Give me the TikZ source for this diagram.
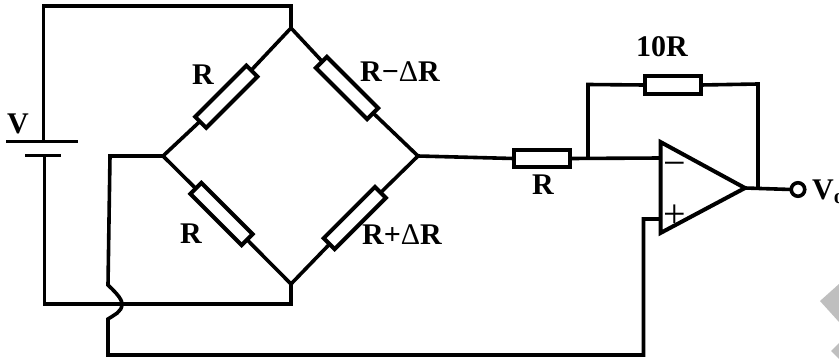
\documentclass[tikz,border=0pt]{standalone}
\usepackage{fontspec}
\setmainfont{Liberation Serif}
\begin{document}
\begin{tikzpicture}[x=1pt,y=-1pt,
  wire/.style={line width=3.6pt,line join=miter,line cap=butt},
  resbox/.style={draw,line width=4pt,rectangle,inner sep=0pt,minimum width=56pt,minimum height=17.5pt,outer sep=0pt,fill=white},
  diagres/.style={draw,line width=4pt,rectangle,inner sep=0pt,minimum width=72.5pt,minimum height=15.5pt,outer sep=0pt,fill=white},
  lbl/.style={font=\fontsize{30}{30}\selectfont\bfseries,inner sep=0pt,text=black},
  sign/.style={font=\fontsize{40}{40}\selectfont,inner sep=0pt},
  wm/.style={fill=black!25,draw=none}]
\clip (0,0) rectangle (839,359);
\fill[white] (0,0) rectangle (839,359);
% watermark fragments
\fill[wm] (839,284) -- (820,301) -- (839,322) -- cycle;
\fill[wm] (839,343) -- (831,351) -- (839,359) -- cycle;
% key points
\coordinate (T) at (291,28);
\coordinate (L) at (163,156);
\coordinate (B) at (291,284);
\coordinate (Rt) at (418,156);
\coordinate (topL) at (43.5,6);
\coordinate (topR) at (291,6);
\coordinate (botL) at (44.5,304);
\coordinate (botR) at (291,304);
\coordinate (batA) at (43.5,141);
\coordinate (batB) at (44.5,155);
\coordinate (pl1) at (6,141.5);
\coordinate (pr1) at (78,141.5);
\coordinate (pl2) at (25,155.5);
\coordinate (pr2) at (61,155.5);
\coordinate (j1) at (588,158);
\coordinate (fbL) at (588,84.5);
\coordinate (fbR) at (758,84);
\coordinate (ampA) at (660.5,142);
\coordinate (ampB) at (660.5,233);
\coordinate (ampC) at (745,188);
\coordinate (ampM) at (660.5,158);
\coordinate (ampP) at (660.5,219);
\coordinate (fbO) at (758,188);
\coordinate (pA) at (643.5,219);
\coordinate (pB) at (643.5,355);
\coordinate (cA) at (108,355);
\coordinate (cB) at (108,319);
\coordinate (cC) at (108,285);
\coordinate (cD) at (110,156);
% resistors
\node[diagres,rotate=45] (r1) at (226.3,96.7) {};
\node[diagres,rotate=-45] (r2) at (221.5,214) {};
\node[diagres,rotate=-45] (r3) at (347,88) {};
\node[diagres,rotate=45] (r4) at (354.8,218) {};
\node[resbox] (r5) at (541.7,158.5) {};
\node[resbox] (r6) at (672.7,85) {};
\node[circle,draw,line width=3.6pt,minimum size=13.5pt,inner sep=0pt,outer sep=0pt] (out) at (798,189.5) {};
% connectors
\draw[wire] (batA) -- (topL) -- (topR) -- (T);
\draw[wire] (batB) -- (botL) -- (botR) -- (B);
\draw[wire] (pl1) -- (pr1);
\draw[wire] (pl2) -- (pr2);
\draw[wire] (T) -- (r1);
\draw[wire] (r1) -- (L);
\draw[wire] (L) -- (r2);
\draw[wire] (r2) -- (B);
\draw[wire] (T) -- (r3);
\draw[wire] (r3) -- (Rt);
\draw[wire] (Rt) -- (r4);
\draw[wire] (r4) -- (B);
\draw[wire] (Rt) -- (r5.west);
\draw[wire] (r5.east) -- (ampM);
\draw[wire] (j1) -- (fbL) -- (r6.west);
\draw[wire] (r6.east) -- (fbR) -- (fbO);
\draw[wire] (ampC) -- (out.west);
\draw[wire] (ampP) -- (pA) -- (pB) -- (cA) -- (cB) .. controls (114,315) and (122,312) .. (122,304) .. controls (122,298) and (113,290) .. (cC) -- (cD) -- (L);
\draw[line width=4pt,line join=miter] (ampA) -- (ampB) -- (ampC) -- cycle;
% labels
\node[lbl] (tV) at (18,124) {V};
\node[lbl] (t1) at (203,75) {R};
\node[lbl] (t2) at (191,234) {R};
\node[lbl] (t3) at (400,72) {R−{\mdseries Δ}R};
\node[lbl] (t4) at (402,235) {R+{\mdseries Δ}R};
\node[lbl] (t5) at (543,185) {R};
\node[lbl] (t6) at (662,47) {10R};
\node[lbl,anchor=west] (t7) at (812,192) {V\textsubscript{o}};
\node[sign] (minus) at (675,169) {−};
\node[sign] (plus) at (675,216) {+};
\end{tikzpicture}
\end{document}
